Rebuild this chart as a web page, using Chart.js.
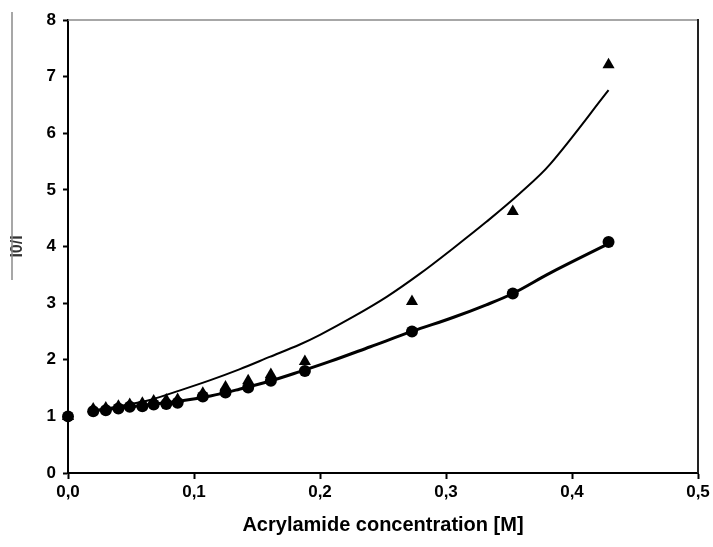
<!DOCTYPE html>
<html>
<head>
<meta charset="utf-8">
<script src="https://cdn.jsdelivr.net/npm/chart.js@4.4.1/dist/chart.umd.min.js"></script>
<style>
  html, body { margin: 0; padding: 0; background: #fff; }
  #wrap { width: 713px; height: 547px; }
</style>
</head>
<body>
<div id="wrap"><canvas id="chart" width="713" height="547"></canvas></div>
<script>
// measured concentrations [M]
const conc = [0, 0.02, 0.03, 0.04, 0.049, 0.059, 0.068, 0.078, 0.087, 0.107, 0.125, 0.143, 0.161, 0.188, 0.273, 0.353, 0.429];
// I0/I, triangles
const triangles = [1.0, 1.13, 1.15, 1.18, 1.21, 1.23, 1.27, 1.29, 1.30, 1.41, 1.52, 1.63, 1.74, 1.97, 3.03, 4.62, 7.21];
// I0/I, circles
const circles = [1.0, 1.09, 1.11, 1.14, 1.17, 1.18, 1.21, 1.22, 1.24, 1.35, 1.42, 1.51, 1.63, 1.80, 2.50, 3.17, 4.08];

// fitted curves
const fitUpperX = [0.02, 0.05, 0.065, 0.089, 0.113, 0.136, 0.160, 0.184, 0.200, 0.2265, 0.2529, 0.2794, 0.3058, 0.3323, 0.3587, 0.3825, 0.429];
const fitUpperY = [1.10, 1.22, 1.29, 1.46, 1.64, 1.83, 2.05, 2.27, 2.44, 2.76, 3.11, 3.52, 3.97, 4.44, 4.94, 5.45, 6.76];
const fitLowerX = [0.02, 0.05, 0.065, 0.089, 0.113, 0.136, 0.160, 0.184, 0.208, 0.240, 0.273, 0.306, 0.332, 0.353, 0.3825, 0.429];
const fitLowerY = [1.10, 1.17, 1.21, 1.27, 1.36, 1.48, 1.62, 1.79, 1.97, 2.23, 2.50, 2.75, 2.97, 3.17, 3.53, 4.05];

const xTicks = [0, 0.1, 0.2, 0.3, 0.4, 0.5];
const yTicks = [0, 1, 2, 3, 4, 5, 6, 7, 8];

const pts = (xs, ys) => xs.map((x, i) => ({ x: x, y: ys[i] }));
const fontFam = '"Liberation Sans", Arial, sans-serif';

// top/right frame and the bar beside the y label
const framePlugin = {
  id: 'frame',
  afterDraw(chart) {
    const { ctx, chartArea: a } = chart;
    ctx.save();
    ctx.strokeStyle = '#8a8a8a';
    ctx.lineWidth = 1.5;
    ctx.beginPath();
    ctx.moveTo(a.left, a.top);
    ctx.lineTo(a.right, a.top);
    ctx.stroke();
    ctx.strokeStyle = '#222';
    ctx.lineWidth = 2;
    ctx.beginPath();
    ctx.moveTo(a.right, a.top - 1);
    ctx.lineTo(a.right, a.bottom);
    ctx.stroke();
    ctx.strokeStyle = '#8a8a8a';
    ctx.lineWidth = 1.5;
    ctx.beginPath();
    ctx.moveTo(12, 12);
    ctx.lineTo(12, 280);
    ctx.stroke();
    ctx.restore();
  }
};

new Chart(document.getElementById('chart'), {
  type: 'scatter',
  data: {
    datasets: [
      {
        label: 'fit triangles',
        data: pts(fitUpperX, fitUpperY),
        showLine: true,
        borderColor: '#000',
        borderWidth: 2,
        pointRadius: 0,
        tension: 0.35
      },
      {
        label: 'fit circles',
        data: pts(fitLowerX, fitLowerY),
        showLine: true,
        borderColor: '#000',
        borderWidth: 3,
        pointRadius: 0,
        tension: 0.35
      },
      {
        label: 'circles',
        data: pts(conc, circles),
        pointStyle: 'circle',
        pointRadius: 6,
        backgroundColor: '#000',
        borderColor: '#000',
        borderWidth: 0,
        clip: false
      },
      {
        label: 'triangles',
        data: pts(conc, triangles),
        pointStyle: 'triangle',
        pointRadius: 7,
        backgroundColor: '#000',
        borderColor: '#000',
        borderWidth: 0,
        clip: false
      }
    ]
  },
  options: {
    responsive: false,
    animation: false,
    layout: { padding: { top: 20, right: 15, left: 0, bottom: 0 } },
    plugins: {
      legend: { display: false },
      tooltip: { enabled: false }
    },
    scales: {
      x: {
        type: 'linear',
        min: 0,
        max: 0.5,
        afterBuildTicks: (s) => { s.ticks = xTicks.map(v => ({ value: v })); },
        afterFit: (s) => { s.height = 74; },
        ticks: {
          color: '#000',
          padding: 3,
          font: { family: fontFam, size: 17, weight: 'bold' },
          callback: (v) => v.toFixed(1).replace('.', ',')
        },
        grid: {
          display: true,
          drawOnChartArea: false,
          drawTicks: true,
          tickLength: 6,
          tickColor: '#000',
          tickWidth: 2
        },
        border: { display: true, color: '#000', width: 2 },
        title: {
          display: true,
          text: 'Acrylamide concentration [M]',
          color: '#000',
          font: { family: fontFam, size: 20, weight: 'bold' },
          padding: { top: 4, bottom: 10 }
        }
      },
      y: {
        type: 'linear',
        min: 0,
        max: 8,
        afterBuildTicks: (s) => { s.ticks = yTicks.map(v => ({ value: v })); },
        afterFit: (s) => { s.width = 68; },
        ticks: {
          color: '#000',
          padding: 7,
          font: { family: fontFam, size: 17, weight: 'bold' },
          callback: (v) => String(v)
        },
        grid: {
          display: true,
          drawOnChartArea: false,
          drawTicks: true,
          tickLength: 5,
          tickColor: '#000',
          tickWidth: 2
        },
        border: { display: true, color: '#000', width: 2 },
        title: {
          display: true,
          text: 'I0/I',
          color: '#333',
          font: { family: fontFam, size: 16, weight: 'bold' },
          padding: { top: 8, bottom: 0 }
        }
      }
    }
  },
  plugins: [framePlugin]
});
</script>
</body>
</html>
